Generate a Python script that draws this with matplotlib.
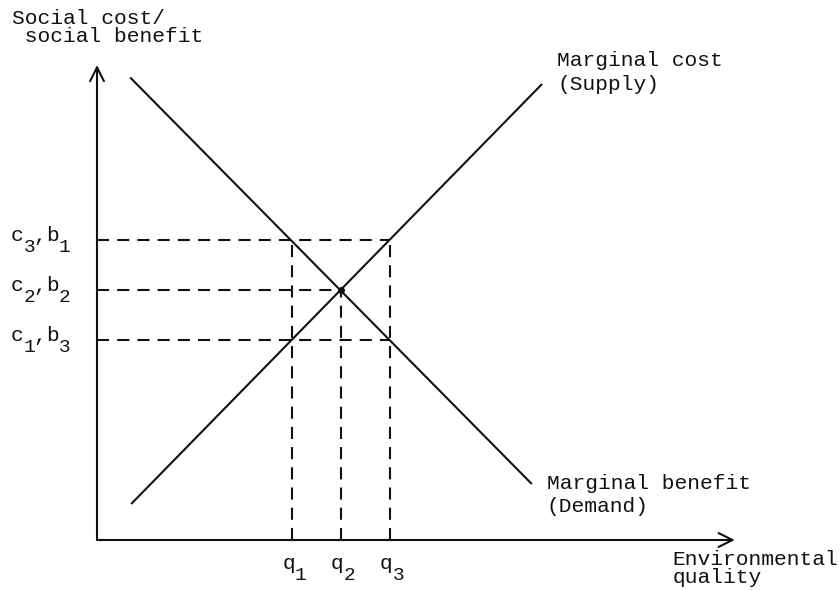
import matplotlib
matplotlib.use("Agg")
import matplotlib.pyplot as plt

plt.rcParams['font.family'] = ['Liberation Mono', 'DejaVu Sans Mono']

# quantities and prices where the dashed guides sit
q_vals = [4, 5, 6]
q_labels = [('q', '1'), ('q', '2'), ('q', '3')]
p_vals = [4, 5, 6]
p_labels = [('c', '1', 'b', '3'), ('c', '2', 'b', '2'), ('c', '3', 'b', '1')]
# how far each guide reaches
h_reach = [6, 5, 6]
v_reach = [6, 5, 6]

# curve end points
supply_x = [0.70, 9.12]
supply_y = [0.72, 9.12]
demand_x = [0.68, 8.91]
demand_y = [9.25, 1.12]

x_arrow = 13.07
y_arrow = 9.5

fs = 15.3
sub_fs = 14
ink = '#111111'
lw = 1.5


def sub_text(ax, x, y, parts, dx0, dy0):
    # parts: list of (string, is_subscript); monospace -> width is 0.6 em per char
    off = dx0
    for s, is_sub in parts:
        size = sub_fs if is_sub else fs
        dy = dy0 - 8.5 if is_sub else dy0
        ax.annotate(s, xy=(x, y), xytext=(off, dy), textcoords='offset points',
                    fontsize=size, ha='left', va='center', color=ink)
        off += 0.6 * size * len(s) * (0.85 if is_sub else 1.0)
    return off


def parts_width(parts):
    w = 0
    for s, is_sub in parts:
        size = sub_fs if is_sub else fs
        w += 0.6 * size * len(s) * (0.85 if is_sub else 1.0)
    return w


fig = plt.figure(figsize=(8.39, 5.90), dpi=100)
ax = fig.add_axes([0, 0, 1, 1])
ax.set_xlim(-97 / 48.8, (839 - 97) / 48.8)
ax.set_ylim(-1.0, 10.8)
ax.axis('off')

# axes with arrows
ax.annotate('', xy=(x_arrow, 0), xytext=(0, 0),
            arrowprops=dict(arrowstyle='->', lw=lw, color=ink, mutation_scale=25, shrinkA=0, shrinkB=0))
ax.annotate('', xy=(0, y_arrow), xytext=(0, 0),
            arrowprops=dict(arrowstyle='->', lw=lw, color=ink, mutation_scale=25, shrinkA=0, shrinkB=0))

# dashed guides
for p, r in zip(p_vals, h_reach):
    ax.plot([0, r], [p, p], color=ink, lw=lw, dashes=(5.8, 3.9))
for q, r in zip(q_vals, v_reach):
    ax.plot([q, q], [0, r], color=ink, lw=lw, dashes=(5.8, 3.9))

# supply and demand
ax.plot(supply_x, supply_y, color=ink, lw=lw, solid_capstyle='butt')
ax.plot(demand_x, demand_y, color=ink, lw=lw, solid_capstyle='butt')
ax.plot([q_vals[1]], [p_vals[1]], 'o', color=ink, ms=4)

for q, (base, sub) in zip(q_vals, q_labels):
    parts = [(base, False), (sub, True)]
    w = parts_width(parts)
    sub_text(ax, q, 0, parts, -w / 2 + 1, -17)

for p, (a, sa, b, sb) in zip(p_vals, p_labels):
    parts = [(a, False), (sa, True), (',', False), (b, False), (sb, True)]
    sub_text(ax, 0, p, parts, -62, 3)

ax.text(-1.74, 10.62, 'Social cost/\n social benefit', fontsize=fs, ha='left', va='top',
        linespacing=0.95, color=ink)
ax.text(9.43, 9.78, 'Marginal cost\n(Supply)', fontsize=fs, ha='left', va='top',
        linespacing=1.3, color=ink)
ax.text(9.22, 1.32, 'Marginal benefit\n(Demand)', fontsize=fs, ha='left', va='top',
        linespacing=1.3, color=ink)
ax.text(11.8, -0.2, 'Environmental\nquality', fontsize=fs, ha='left', va='top',
        linespacing=0.95, color=ink)

fig.savefig('out.png', dpi=100, facecolor='white')
